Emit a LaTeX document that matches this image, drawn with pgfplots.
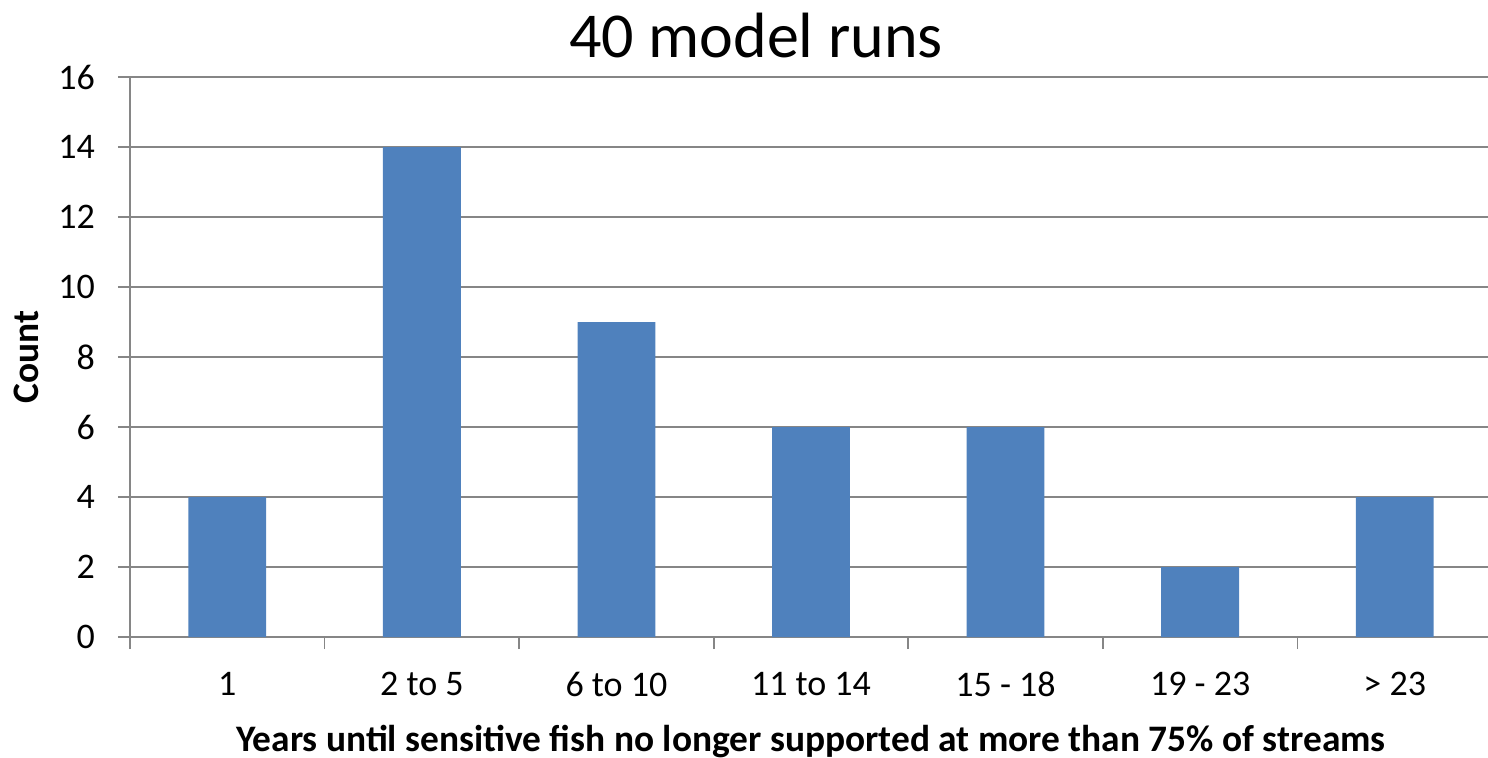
\documentclass[border=0pt]{standalone}
\usepackage{pgfplots}
\pgfplotsset{compat=1.18}
\usepackage{fontspec}
\setmainfont{Carlito}
\definecolor{barblue}{HTML}{4F81BD}
\definecolor{gridgray}{HTML}{868686}
\begin{document}
\begin{tikzpicture}
\path[use as bounding box] (-65pt,-60pt) rectangle (679pt,318.5pt);
\begin{axis}[
  at={(0pt,0pt)}, anchor=south west,
  scale only axis,
  width=681pt, height=280pt,
  xmin=-0.5, xmax=6.5,
  ymin=0, ymax=16,
  ytick={0,2,...,16},
  xtick={-0.5,0.5,...,6.5},
  x tick label as interval,
  xticklabels={1,2 to 5,6 to 10,11 to 14,15 - 18,19 - 23,{> 23}},
  axis x line*=bottom,
  axis y line*=left,
  axis line style={gridgray, line width=0.9pt, -},
  ymajorgrids,
  grid style={gridgray, line width=0.9pt},
  major tick length=6pt,
  tick align=outside,
  tick style={gridgray, line width=0.9pt},
  ticklabel style={font=\fontsize{18}{20}\selectfont},
  /pgf/number format/assume math mode=true,
  yticklabel style={xshift=-8pt},
  xticklabel style={yshift=-8pt},
  title={40 model runs},
  title style={font=\fontsize{32}{35}\selectfont, xshift=-27.5pt, yshift=0pt},
  xlabel={\bfseries Years until sensitive fish no longer supported at more than 75\% of streams},
  ylabel={\bfseries Count},
  label style={font=\fontsize{18.7}{21}\selectfont},
  xlabel style={yshift=-7.5pt},
  ylabel style={yshift=3pt},
  ybar, bar width=0.4,
  clip=false,
]
\addplot[fill=barblue, draw=none] coordinates {
  (0,4) (1,14) (2,9) (3,6) (4,6) (5,2) (6,4)
};
\end{axis}
\end{tikzpicture}
\end{document}
